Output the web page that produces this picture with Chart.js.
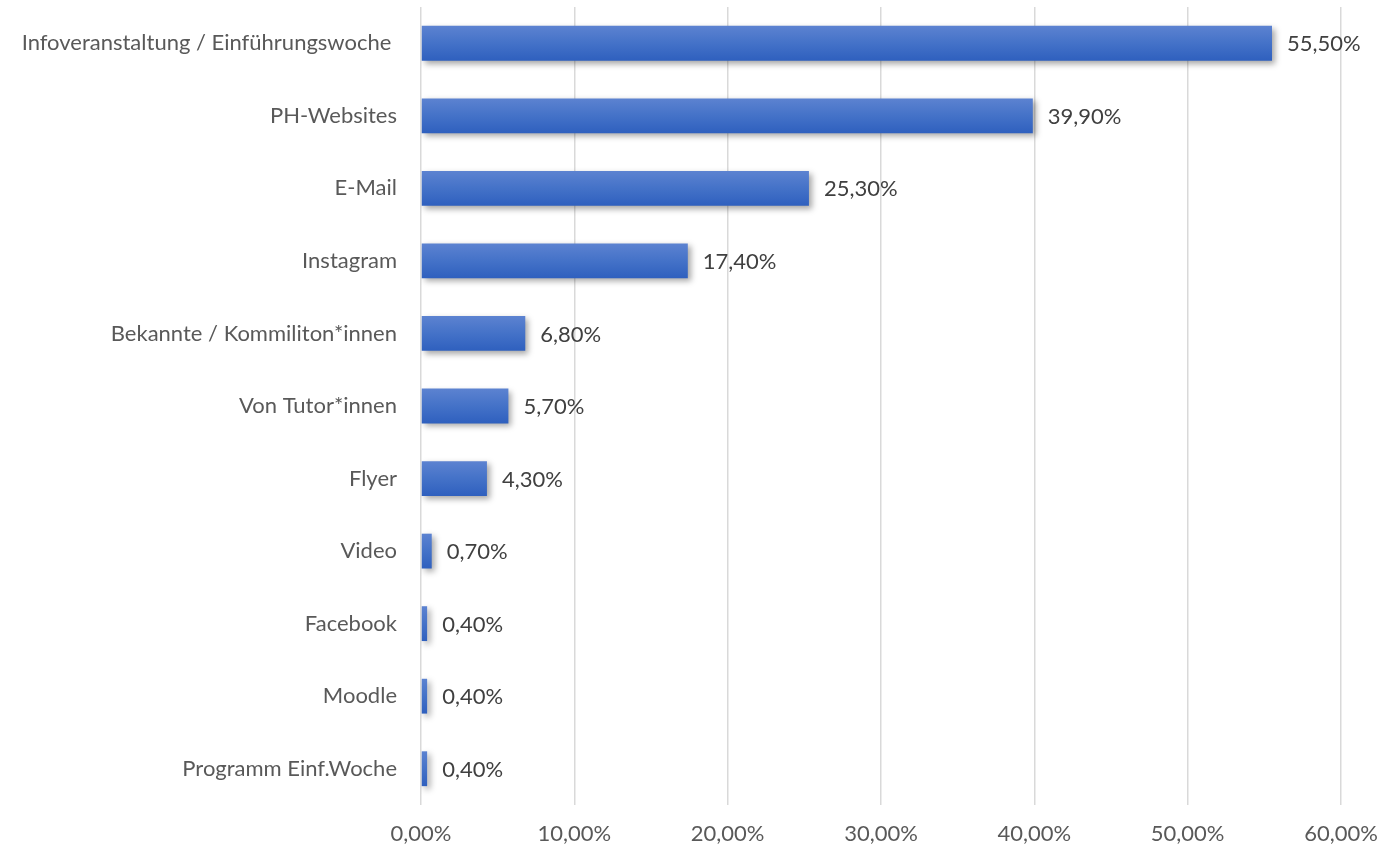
<!DOCTYPE html>
<html>
<head>
<meta charset="utf-8">
<script src="https://cdn.jsdelivr.net/npm/chart.js@4.4.0/dist/chart.umd.min.js"></script>
<style>
  html, body { margin: 0; padding: 0; background: #fff; }
  #wrap { width: 1382px; height: 849px; }
</style>
</head>
<body>
<div id="wrap"><canvas id="barChart"></canvas></div>
<script>
// categories and values (percent)
const categories = [
  "Infoveranstaltung / Einführungswoche ",
  "PH-Websites",
  "E-Mail",
  "Instagram",
  "Bekannte / Kommiliton*innen",
  "Von Tutor*innen",
  "Flyer",
  "Video",
  "Facebook",
  "Moodle",
  "Programm Einf.Woche"
];
const shares = [55.5, 39.9, 25.3, 17.4, 6.8, 5.7, 4.3, 0.7, 0.4, 0.4, 0.4];
const axisTicks = [0, 10, 20, 30, 40, 50, 60];

const FONT = "Lato, 'Open Sans', sans-serif";

function fmtPct(v) {
  return v.toFixed(2).replace(".", ",") + "%";
}

// shadow under the bars
const barShadow = {
  id: "barShadow",
  beforeDatasetsDraw(chart) {
    const ctx = chart.ctx;
    ctx.save();
    ctx.shadowColor = "rgba(0,0,0,0.35)";
    ctx.shadowBlur = 6;
    ctx.shadowOffsetX = 3;
    ctx.shadowOffsetY = 3;
  },
  afterDatasetsDraw(chart) {
    chart.ctx.restore();
  }
};

// value labels right of each bar
const valueLabels = {
  id: "valueLabels",
  afterDatasetsDraw(chart) {
    const ctx = chart.ctx;
    const meta = chart.getDatasetMeta(0);
    ctx.save();
    ctx.font = "22px " + FONT;
    ctx.fillStyle = "#404040";
    ctx.textAlign = "left";
    ctx.textBaseline = "middle";
    meta.data.forEach((bar, i) => {
      ctx.fillText(fmtPct(shares[i]), bar.x + 15, bar.y + 1);
    });
    ctx.restore();
  }
};

const ctx = document.getElementById("barChart").getContext("2d");
new Chart(ctx, {
  type: "bar",
  data: {
    labels: categories,
    datasets: [
      {
        data: shares,
        backgroundColor: function (context) {
          const chart = context.chart;
          const yScale = chart.scales.y;
          if (!yScale) return "#4472c4";
          const cy = yScale.getPixelForValue(context.dataIndex);
          if (!isFinite(cy)) return "#4472c4";
          const g = chart.ctx.createLinearGradient(0, cy - 18, 0, cy + 18);
          g.addColorStop(0, "#5d83d1");
          g.addColorStop(0.5, "#4472c8");
          g.addColorStop(1, "#2e5fbe");
          return g;
        },
        borderWidth: 0,
        barPercentage: 0.96,
        categoryPercentage: 0.5,
      },
    ],
  },
  options: {
    indexAxis: "y",
    responsive: true,
    maintainAspectRatio: false,
    animation: false,
    layout: {
      padding: { top: 7, right: 41, left: 0, bottom: 0 },
    },
    scales: {
      x: {
        min: 0,
        max: 60,
        afterBuildTicks: function (scale) {
          scale.ticks = axisTicks.map((v) => ({ value: v }));
        },
        afterFit: function (scale) {
          scale.height = 44;
          scale.paddingLeft = 0;
          scale.paddingRight = 0;
        },
        ticks: {
          callback: function (value) {
            return fmtPct(value);
          },
          font: { family: FONT, size: 22 },
          color: "#595959",
          padding: 16,
          maxRotation: 0,
        },
        grid: {
          color: "#d9d9d9",
          lineWidth: 1.5,
          drawTicks: false,
        },
        border: { display: false },
      },
      y: {
        afterFit: function (scale) {
          scale.width = 421;
          scale.paddingTop = 0;
          scale.paddingBottom = 0;
        },
        ticks: {
          font: { family: FONT, size: 22 },
          color: "#595959",
          padding: 24,
        },
        grid: { display: false, drawTicks: false },
        border: { display: false },
      },
    },
    plugins: {
      legend: { display: false },
      tooltip: { enabled: false },
    },
  },
  plugins: [barShadow, valueLabels],
});
</script>
</body>
</html>
